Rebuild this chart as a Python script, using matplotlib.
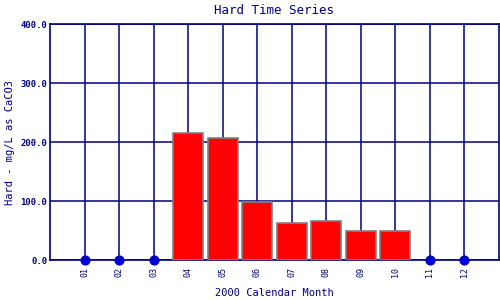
import matplotlib
matplotlib.use("Agg")
import matplotlib.pyplot as plt
import numpy as np

months = ["01", "02", "03", "04", "05", "06", "07", "08", "09", "10", "11", "12"]
values = [0, 0, 0, 215, 207, 98, 63, 66, 49, 49, 0, 0]
yticks = [0, 100, 200, 300, 400]

navy = "#000080"
fig = plt.figure(figsize=(5, 3), dpi=100)
ax = fig.add_axes([0.1, 0.1333, 0.898, 0.7867])
x = np.arange(1, 13)
vals = np.array(values)
has = vals > 0
ax.bar(x[has], vals[has], width=0.87, color="#ff0000", edgecolor="#808080", linewidth=1.2, zorder=3)
ax.scatter(x[~has], vals[~has], s=40, color="#0000cc", zorder=4, clip_on=False)
ax.set_xlim(0, 13)
ax.set_ylim(0, 400)
ax.set_xticks(x)
ax.set_xticklabels(months, rotation=90, fontsize=6, family="DejaVu Sans Mono", color=navy)
ax.set_yticks(yticks)
ax.set_yticklabels([f"{v:.1f}" for v in yticks], fontsize=6.5, family="DejaVu Sans Mono", color=navy, fontweight="bold")
ax.tick_params(axis="x", length=0, pad=5)
ax.tick_params(axis="y", length=0, pad=2)
ax.grid(True, color=navy, linewidth=1.1, zorder=1)
ax.set_axisbelow(True)
for s in ax.spines.values():
    s.set_color(navy)
    s.set_linewidth(1.2)
ax.set_title("Hard Time Series", fontsize=9, family="DejaVu Sans Mono", color=navy, pad=7)
ax.set_xlabel("2000 Calendar Month", fontsize=7.5, family="DejaVu Sans Mono", color=navy, labelpad=8)
ax.set_ylabel("Hard - mg/L as CaCO3", fontsize=7.5, family="DejaVu Sans Mono", color=navy, labelpad=4)
fig.savefig("out.png", dpi=100)
